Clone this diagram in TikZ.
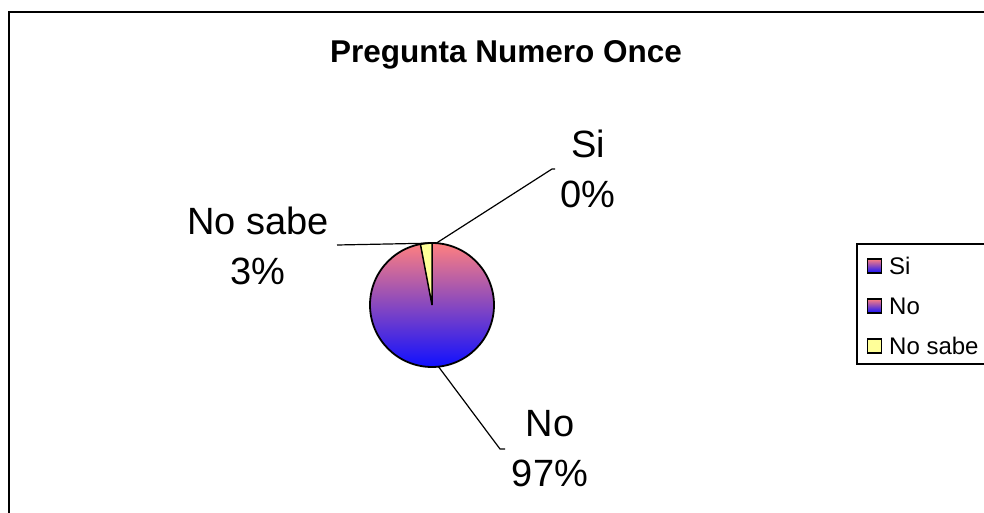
\documentclass[tikz,border=0pt]{standalone}
\usepackage{fontspec}
\setmainfont{Liberation Sans}
\usetikzlibrary{calc}
\definecolor{piepink}{RGB}{255,128,128}
\definecolor{pieblue}{RGB}{16,16,255}
\definecolor{sliceyellow}{RGB}{255,255,153}
\begin{document}
\begin{tikzpicture}[x=1pt,y=-1pt,
  biglabel/.style={font=\fontsize{38}{50}\selectfont, align=center, inner sep=0pt},
  leader/.style={line width=1.2pt},
  legtext/.style={font=\fontsize{24}{28}\selectfont, anchor=west, inner sep=0pt},
  legmark/.style={draw=black, line width=1.3pt, minimum size=14pt, inner sep=0pt}]
\useasboundingbox (0,0) rectangle (984,513);
\clip (0,0) rectangle (984,513);
\draw[line width=2pt] (9,12) rectangle (1000,530);
\node[font=\fontsize{31.5}{36}\selectfont\bfseries, anchor=base, inner sep=0pt] (title) at (506,63) {Pregunta Numero Once};
% pie
\coordinate (c) at (432,305);
\shade[top color=piepink, bottom color=pieblue] (c) circle (62);
\filldraw[fill=sliceyellow, draw=black, line width=1.5pt] (c) -- ++(-90:62) arc (-90:-100.8:62) -- cycle;
\draw[line width=1.8pt] (c) circle (62);
\coordinate (psi) at ($(c)+(-86:62)$);
\coordinate (pnosabe) at ($(c)+(-95:62)$);
\coordinate (pno) at ($(c)+(84:62)$);
% labels
\node[biglabel] (lsi) at (588,169) {Si\\0\%};
\node[biglabel] (lnosabe) at (258,246) {No sabe\\3\%};
\node[biglabel] (lno) at (550,449) {No\\97\%};
\coordinate (siend) at (552,169);
\coordinate (nosabeend) at (337,245);
\coordinate (noend) at (500,449);
\draw[leader] (psi) -- (siend) -- ++(3,0);
\draw[leader] (pnosabe) -- (nosabeend);
\draw[leader] (pno) -- (noend) -- ++(5,0);
% legend
\draw[line width=1.8pt] (857,244) rectangle (1000,364);
\node[legmark, shade, top color=piepink, bottom color=pieblue] (msi) at (874.5,266) {};
\node[legtext] (tsi) at (889,266) {Si};
\node[legmark, shade, top color=piepink, bottom color=pieblue] (mno) at (874.5,306) {};
\node[legtext] (tno) at (889,306) {No};
\node[legmark, fill=sliceyellow] (mnosabe) at (874.5,346) {};
\node[legtext] (tnosabe) at (889,346) {No sabe};
\end{tikzpicture}
\end{document}
